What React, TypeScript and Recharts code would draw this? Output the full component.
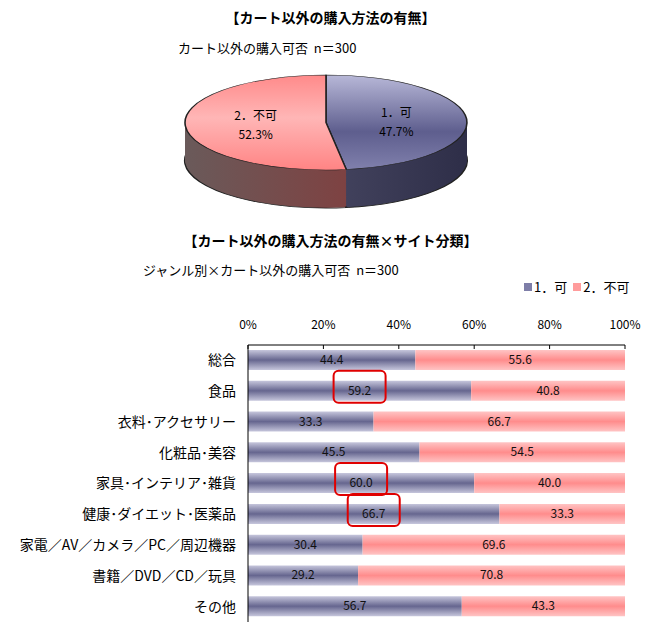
import React from "react";
import { BarChart, Bar, XAxis, YAxis, LabelList, PieChart, Pie, Cell } from "recharts";

const FONT = '"Noto Sans CJK JP", "Noto Sans", sans-serif';

// pie: カート以外の購入可否 n=300
const PIE_NAMES = ["1．可", "2．不可"];
const PIE_VALUES = [47.7, 52.3];

// bars: ジャンル別
const GENRES = [
  "総合",
  "食品",
  "衣料･アクセサリー",
  "化粧品･美容",
  "家具･インテリア･雑貨",
  "健康･ダイエット･医薬品",
  "家電／AV／カメラ／PC／周辺機器",
  "書籍／DVD／CD／玩具",
  "その他",
];
const YES = [44.4, 59.2, 33.3, 45.5, 60.0, 66.7, 30.4, 29.2, 56.7];
const NO = [55.6, 40.8, 66.7, 54.5, 40.0, 33.3, 69.6, 70.8, 43.3];
const CIRCLED = ["食品", "家具･インテリア･雑貨", "健康･ダイエット･医薬品"];
const PCT_TICKS = [0, 20, 40, 60, 80, 100];
const ROW_EDGES = [0, 1, 2, 3, 4, 5, 6, 7, 8, 9];

const PIE_SCALE = 0.337;
const PIE_R = 141;
const PIE_DEPTH = 38 / PIE_SCALE;
const PIE_LAYERS = 40;
const RAD = Math.PI / 180;

const pieData = PIE_NAMES.map((name, i) => ({ name, value: PIE_VALUES[i] }));
const barData = GENRES.map((g, i) => ({
  name: g,
  yes: YES[i],
  no: NO[i],
  box: CIRCLED.includes(g) ? "1" : "",
}));

// label drawn on an unscaled overlay; vertical offset squashed like the pie
function PieLabel(props: any) {
  const { cx, cy, midAngle, outerRadius, index } = props;
  const r = outerRadius * 0.5;
  const x = cx + r * Math.cos(-midAngle * RAD);
  const y = cy + r * Math.sin(-midAngle * RAD) * PIE_SCALE;
  return (
    <g>
      <text x={x} y={y - 4} textAnchor="middle" fontSize={12} fontFamily={FONT} fill="#000">
        {PIE_NAMES[index]}
      </text>
      <text x={x} y={y + 15} textAnchor="middle" fontSize={12} fontFamily={FONT} fill="#000">
        {PIE_VALUES[index].toFixed(1)}%
      </text>
    </g>
  );
}

function Pie3D() {
  const w = 300;
  const h = 2 * PIE_R + PIE_DEPTH + 6;
  const cx = w / 2;
  const cy = PIE_R + 3;
  const layers = [];
  for (let k = PIE_LAYERS; k >= 1; k--) {
    const off = (PIE_DEPTH * k) / PIE_LAYERS;
    const bottom = k === PIE_LAYERS;
    layers.push(
      <Pie
        key={"side" + k}
        data={pieData}
        dataKey="value"
        cx={cx}
        cy={cy + off}
        outerRadius={PIE_R}
        startAngle={90}
        endAngle={-270}
        isAnimationActive={false}
        stroke={bottom ? "#222" : "none"}
        strokeWidth={bottom ? 2.2 : 0}
      >
        <Cell fill="url(#yesSide)" />
        <Cell fill="url(#noSide)" />
      </Pie>
    );
  }
  const boxTop = 122.5 - cy * PIE_SCALE;
  return (
    <>
      <div style={{ position: "absolute", left: 326 - cx, top: boxTop, width: w, height: h * PIE_SCALE }}>
        <div style={{ transform: `scaleY(${PIE_SCALE})`, transformOrigin: "0 0" }}>
          <PieChart width={w} height={h} margin={{ top: 0, right: 0, bottom: 0, left: 0 }}>
            <defs>
              <linearGradient id="yesTop" x1="0" y1="0" x2="0" y2="1">
                <stop offset="0" stopColor="#b8b8d8" />
                <stop offset="0.6" stopColor="#5e5e8e" />
                <stop offset="1" stopColor="#8080ac" />
              </linearGradient>
              <linearGradient id="noTop" x1="0" y1="0" x2="0" y2="1">
                <stop offset="0" stopColor="#ff8a8a" />
                <stop offset="0.45" stopColor="#ffb6b6" />
                <stop offset="1" stopColor="#ff8484" />
              </linearGradient>
              <linearGradient id="yesSide" x1="0" y1="0" x2="1" y2="0">
                <stop offset="0" stopColor="#44445f" />
                <stop offset="1" stopColor="#2e2e48" />
              </linearGradient>
              <linearGradient id="noSide" x1="0" y1="0" x2="1" y2="0">
                <stop offset="0" stopColor="#6a5a5a" />
                <stop offset="1" stopColor="#7e4242" />
              </linearGradient>
            </defs>
            {layers}
            <Pie
              data={pieData}
              dataKey="value"
              cx={cx}
              cy={cy}
              outerRadius={PIE_R}
              startAngle={90}
              endAngle={-270}
              isAnimationActive={false}
              stroke="#222"
              strokeWidth={1.6}
            >
              <Cell fill="url(#yesTop)" />
              <Cell fill="url(#noTop)" />
            </Pie>
          </PieChart>
        </div>
      </div>
      <div style={{ position: "absolute", left: 326 - cx, top: boxTop, width: w, height: h * PIE_SCALE }}>
        <PieChart width={w} height={h * PIE_SCALE} margin={{ top: 0, right: 0, bottom: 0, left: 0 }}>
          <Pie
            data={pieData}
            dataKey="value"
            cx={cx}
            cy={cy * PIE_SCALE}
            outerRadius={PIE_R}
            startAngle={90}
            endAngle={-270}
            isAnimationActive={false}
            fill="transparent"
            stroke="none"
            label={PieLabel}
            labelLine={false}
          />
        </PieChart>
      </div>
    </>
  );
}

function ValueLabel(props: any) {
  const { x, y, width, height, value } = props;
  return (
    <text
      x={x + width / 2}
      y={y + height / 2}
      dy={4}
      textAnchor="middle"
      fontSize={12}
      fontFamily={FONT}
      fill="#111"
    >
      {Number(value).toFixed(1)}
    </text>
  );
}

function CircleMark(props: any) {
  const { x, y, width, height, value } = props;
  if (!value) return null;
  const mx = x + width / 2;
  const my = y + height / 2 - 4;
  return (
    <rect
      x={mx - 26}
      y={my - 16}
      width={52}
      height={32}
      rx={5}
      ry={5}
      fill="none"
      stroke="#e00000"
      strokeWidth={2}
    />
  );
}

export default function App() {
  return (
    <div
      style={{
        position: "absolute",
        left: 0,
        top: 0,
        width: 661,
        height: 635,
        background: "#fff",
        fontFamily: FONT,
        color: "#000",
        overflow: "hidden",
      }}
    >
      <div style={{ position: "absolute", left: 0, top: 9, width: 661, textAlign: "center", fontSize: 14, fontWeight: "bold", lineHeight: "16px" }}>
        【カート以外の購入方法の有無】
      </div>
      <div style={{ position: "absolute", left: 178, top: 40, fontSize: 13, lineHeight: "16px", whiteSpace: "pre" }}>
        カート以外の購入可否  n＝300
      </div>

      <Pie3D />

      <div style={{ position: "absolute", left: 0, top: 232, width: 661, textAlign: "center", fontSize: 14, fontWeight: "bold", lineHeight: "16px" }}>
        【カート以外の購入方法の有無×サイト分類】
      </div>
      <div style={{ position: "absolute", left: 143, top: 262, fontSize: 13, lineHeight: "16px", whiteSpace: "pre" }}>
        ジャンル別×カート以外の購入可否  n＝300
      </div>

      <div style={{ position: "absolute", left: 524, top: 279, fontSize: 13, lineHeight: "16px", display: "flex", alignItems: "center", whiteSpace: "pre" }}>
        <span style={{ display: "inline-block", width: 8, height: 8, background: "#7e7ea8", marginRight: 2 }} />
        <span>1．可</span>
        <span style={{ display: "inline-block", width: 8, height: 8, background: "#ff9c9c", marginLeft: 6, marginRight: 2 }} />
        <span>2．不可</span>
      </div>

      <div style={{ position: "absolute", left: 0, top: 300 }}>
        <BarChart
          width={661}
          height={327}
          data={barData}
          layout="vertical"
          margin={{ top: 0, right: 36, bottom: 5, left: 0 }}
        >
          <defs>
            <linearGradient id="yesBar" x1="0" y1="0" x2="0" y2="1">
              <stop offset="0" stopColor="#c6c6dc" />
              <stop offset="0.5" stopColor="#66668f" />
              <stop offset="1" stopColor="#c6c6dc" />
            </linearGradient>
            <linearGradient id="noBar" x1="0" y1="0" x2="0" y2="1">
              <stop offset="0" stopColor="#ffc4c4" />
              <stop offset="0.5" stopColor="#ff8c8c" />
              <stop offset="1" stopColor="#ffc4c4" />
            </linearGradient>
          </defs>
          <XAxis
            type="number"
            orientation="top"
            domain={[0, 100]}
            ticks={PCT_TICKS}
            tickFormatter={(v) => `${v}%`}
            height={45}
            axisLine={{ stroke: "#000" }}
            tickLine={{ stroke: "#000" }}
            tickSize={-4}
            tickMargin={20}
            tick={{ fontSize: 12, fill: "#000", fontFamily: FONT }}
            interval={0}
          />
          <YAxis
            yAxisId="rows"
            type="number"
            orientation="left"
            domain={[0, 9]}
            ticks={ROW_EDGES}
            width={0}
            tick={false}
            axisLine={false}
            tickLine={{ stroke: "#000" }}
            tickSize={-4}
          />
          <YAxis
            type="category"
            dataKey="name"
            width={248}
            axisLine={{ stroke: "#000" }}
            tickLine={false}
            tickSize={0}
            tickMargin={12}
            tick={{ fontSize: 14, fill: "#000", fontFamily: FONT }}
            interval={0}
          />
          <Bar dataKey="yes" stackId="a" barSize={20} fill="url(#yesBar)" isAnimationActive={false}>
            <LabelList dataKey="yes" content={ValueLabel} />
            <LabelList dataKey="box" content={CircleMark} />
          </Bar>
          <Bar dataKey="no" stackId="a" barSize={20} fill="url(#noBar)" isAnimationActive={false}>
            <LabelList dataKey="no" content={ValueLabel} />
          </Bar>
        </BarChart>
      </div>
    </div>
  );
}
